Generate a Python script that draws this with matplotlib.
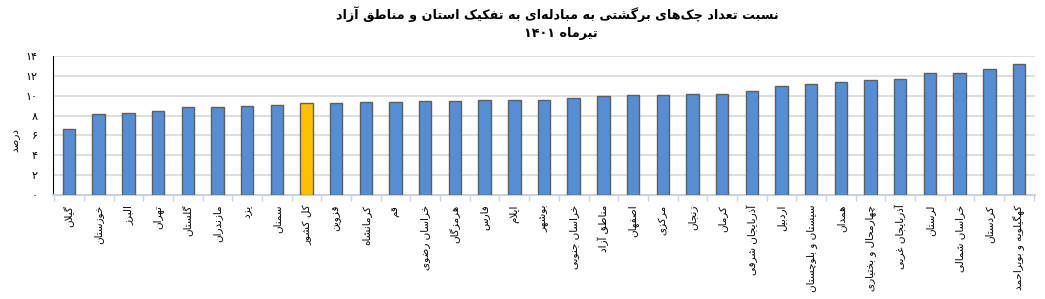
import matplotlib
matplotlib.use("Agg")
import matplotlib.pyplot as plt
import numpy as np

# --- data ---
provinces = ["گیلان", "خوزستان", "البرز", "تهران", "گلستان", "مازندران", "یزد", "سمنان",
             "کل کشور", "قزوین", "کرمانشاه", "قم", "خراسان رضوی", "هرمزگان", "فارس", "ایلام",
             "بوشهر", "خراسان جنوبی", "مناطق آزاد", "اصفهان", "مرکزی", "زنجان", "کرمان",
             "آذربایجان شرقی", "اردبیل", "سیستان و بلوچستان", "همدان", "چهارمحال و بختیاری",
             "آذربایجان غربی", "لرستان", "خراسان شمالی", "کردستان", "کهگیلویه و بویراحمد"]
ratios = [6.6, 8.2, 8.25, 8.5, 8.85, 8.85, 8.95, 9.1, 9.25, 9.3, 9.35, 9.4, 9.45, 9.5, 9.6,
          9.6, 9.6, 9.8, 10.0, 10.1, 10.1, 10.2, 10.2, 10.45, 11.0, 11.2, 11.35, 11.6, 11.7,
          12.25, 12.25, 12.7, 13.2]
highlight = "کل کشور"
yticks = [0, 2, 4, 6, 8, 10, 12, 14]
title1 = "نسبت تعداد چک‌های برگشتی به مبادله‌ای به تفکیک استان و مناطق آزاد"
title2 = "تیرماه ۱۴۰۱"
ylabel = "درصد"

# --- tiny persian shaper (matplotlib has no arabic shaping) ---
# char: (isolated, final, initial, medial) ; None -> joins on the right only
FORMS = {
    "ا": ("\uFE8D", "\uFE8E", None, None), "آ": ("\uFE81", "\uFE82", None, None),
    "ب": ("\uFE8F", "\uFE90", "\uFE91", "\uFE92"), "پ": ("\uFB56", "\uFB57", "\uFB58", "\uFB59"),
    "ت": ("\uFE95", "\uFE96", "\uFE97", "\uFE98"), "ث": ("\uFE99", "\uFE9A", "\uFE9B", "\uFE9C"),
    "ج": ("\uFE9D", "\uFE9E", "\uFE9F", "\uFEA0"), "چ": ("\uFB7A", "\uFB7B", "\uFB7C", "\uFB7D"),
    "ح": ("\uFEA1", "\uFEA2", "\uFEA3", "\uFEA4"), "خ": ("\uFEA5", "\uFEA6", "\uFEA7", "\uFEA8"),
    "د": ("\uFEA9", "\uFEAA", None, None), "ذ": ("\uFEAB", "\uFEAC", None, None),
    "ر": ("\uFEAD", "\uFEAE", None, None), "ز": ("\uFEAF", "\uFEB0", None, None),
    "ژ": ("\uFB8A", "\uFB8B", None, None),
    "س": ("\uFEB1", "\uFEB2", "\uFEB3", "\uFEB4"), "ش": ("\uFEB5", "\uFEB6", "\uFEB7", "\uFEB8"),
    "ص": ("\uFEB9", "\uFEBA", "\uFEBB", "\uFEBC"), "ض": ("\uFEBD", "\uFEBE", "\uFEBF", "\uFEC0"),
    "ط": ("\uFEC1", "\uFEC2", "\uFEC3", "\uFEC4"), "ظ": ("\uFEC5", "\uFEC6", "\uFEC7", "\uFEC8"),
    "ع": ("\uFEC9", "\uFECA", "\uFECB", "\uFECC"), "غ": ("\uFECD", "\uFECE", "\uFECF", "\uFED0"),
    "ف": ("\uFED1", "\uFED2", "\uFED3", "\uFED4"), "ق": ("\uFED5", "\uFED6", "\uFED7", "\uFED8"),
    "ک": ("\uFB8E", "\uFB8F", "\uFB90", "\uFB91"), "گ": ("\uFB92", "\uFB93", "\uFB94", "\uFB95"),
    "ل": ("\uFEDD", "\uFEDE", "\uFEDF", "\uFEE0"), "م": ("\uFEE1", "\uFEE2", "\uFEE3", "\uFEE4"),
    "ن": ("\uFEE5", "\uFEE6", "\uFEE7", "\uFEE8"), "و": ("\uFEED", "\uFEEE", None, None),
    "ه": ("\uFEE9", "\uFEEA", "\uFEEB", "\uFEEC"), "ی": ("\uFBFC", "\uFBFD", "\uFBFE", "\uFBFF"),
    "ئ": ("\uFE89", "\uFE8A", "\uFE8B", "\uFE8C"),
}
LAMALEF = {"ا": ("\uFEFB", "\uFEFC"), "آ": ("\uFEF5", "\uFEF6")}


def fa(text):
    chars = list(text)
    out = []
    i = 0
    n = len(chars)
    while i < n:
        c = chars[i]
        if c not in FORMS:
            if c != "\u200c":
                out.append(c)
            i += 1
            continue
        prev = chars[i - 1] if i > 0 else ""
        join_prev = prev in FORMS and FORMS[prev][2] is not None
        if c == "ل" and i + 1 < n and chars[i + 1] in LAMALEF:
            out.append(LAMALEF[chars[i + 1]][1 if join_prev else 0])
            i += 2
            continue
        nxt = chars[i + 1] if i + 1 < n else ""
        join_next = nxt in FORMS and FORMS[c][2] is not None
        iso, fin, ini, med = FORMS[c]
        if join_prev and join_next:
            out.append(med)
        elif join_prev:
            out.append(fin)
        elif join_next:
            out.append(ini)
        else:
            out.append(iso)
        i += 1
    # visual order: reverse, but keep digit runs left-to-right
    runs = []
    for ch in out:
        isdig = "\u06f0" <= ch <= "\u06f9" or ch.isdigit()
        if runs and runs[-1][0] == isdig:
            runs[-1][1].append(ch)
        else:
            runs.append([isdig, [ch]])
    res = ""
    for isdig, r in reversed(runs):
        res += "".join(r) if isdig else "".join(reversed(r))
    return res


def fa_digits(v):
    return str(v).translate(str.maketrans("0123456789", "۰۱۲۳۴۵۶۷۸۹"))


plt.rcParams['font.family'] = ['DejaVu Sans']

fig = plt.figure(figsize=(10.45, 2.99), dpi=100)
ax = fig.add_axes([53 / 1045, 1 - 195 / 299, (1035 - 53) / 1045, (195 - 56) / 299])

x = np.arange(len(provinces))
colors = ["#FFC000" if p == highlight else "#558ED5" for p in provinces]
ax.bar(x, ratios, width=0.42, color=colors, edgecolor="#5F5F5F", linewidth=1.0, zorder=3)

ax.set_xlim(-0.54, len(provinces) - 0.46)
ax.set_ylim(0, 14)
ax.set_yticks(yticks)
ax.set_yticklabels([fa_digits(t) for t in yticks], fontsize=8)
ax.yaxis.grid(True, color="#D9D9D9", linewidth=1.2, zorder=0)
ax.tick_params(axis="y", length=0, pad=11)

ax.set_xticks(x)
ax.set_xticklabels([fa(p) for p in provinces], rotation=90, fontsize=7.5, va="top")
ax.tick_params(axis="x", length=0, pad=7)
ax.set_xticks(np.arange(len(provinces) + 1) - 0.5, minor=True)
ax.tick_params(axis="x", which="minor", length=4, color="#C9D3E3", width=1)

for s in ["top", "right"]:
    ax.spines[s].set_visible(False)
ax.spines["left"].set_color("black")
ax.spines["bottom"].set_color("#C9D3E3")
ax.spines["bottom"].set_linewidth(1.5)

fig.text(15 / 1045, 1 - 140 / 299, fa(ylabel), rotation=90, fontsize=7.5, ha="center", va="center")
fig.text(557 / 1045, 1 - 14 / 299, fa(title1), fontsize=9.2, fontweight="bold", ha="center", va="center")
fig.text(561 / 1045, 1 - 33 / 299, fa(title2), fontsize=9.2, fontweight="bold", ha="center", va="center")

fig.savefig("out.png", dpi=100)
